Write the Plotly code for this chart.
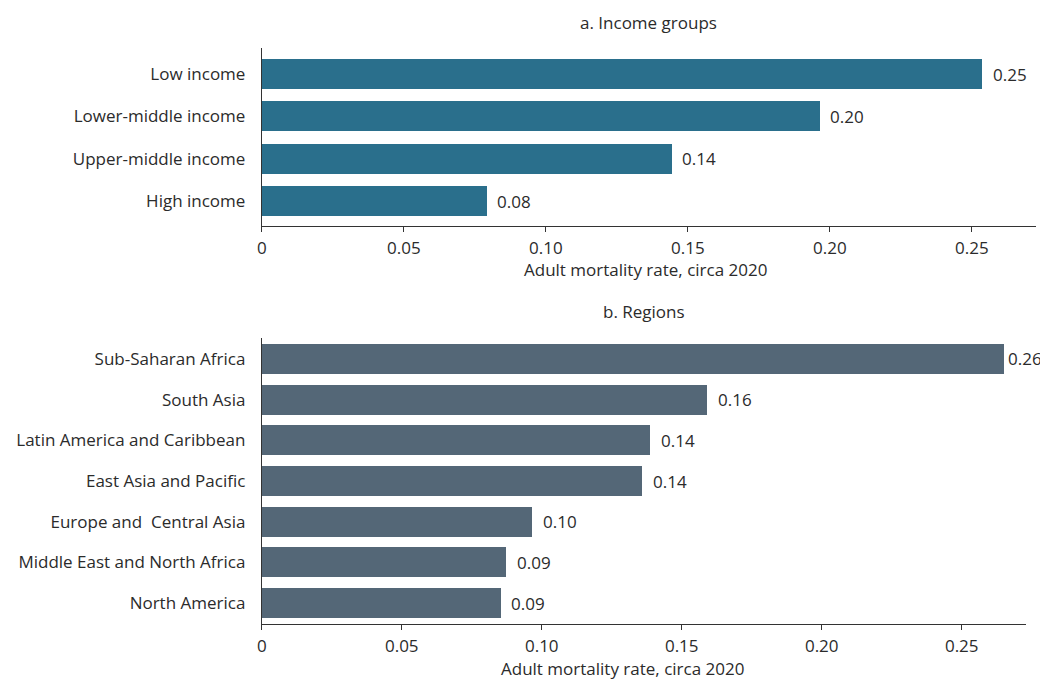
import plotly.graph_objects as go

# Data
income_groups = ["Low income", "Lower-middle income", "Upper-middle income", "High income"]
income_values = [0.2535, 0.1963, 0.1442, 0.0791]
income_labels = ["0.25", "0.20", "0.14", "0.08"]

regions = ["Sub-Saharan Africa", "South Asia", "Latin America and Caribbean",
           "East Asia and Pacific", "Europe and  Central Asia",
           "Middle East and North Africa", "North America"]
region_values = [0.2650, 0.1591, 0.1385, 0.1357, 0.0966, 0.0873, 0.0852]
region_labels = ["0.26", "0.16", "0.14", "0.14", "0.10", "0.09", "0.09"]

x_tickvals = [0, 0.05, 0.10, 0.15, 0.20, 0.25]
x_ticktext = ["0", "0.05", "0.10", "0.15", "0.20", "0.25"]

title_a = "a. Income groups"
title_b = "b. Regions"
x_title = "Adult mortality rate, circa 2020"

FONT = "'Open Sans', Lato, sans-serif"
TXT = "#2b2b2b"
FS = 17
# page body has an 8px margin; figure placed at (8, 8)
OX, OY = 8, 8
W, H = 1040, 673


def px(x):
    return (x - OX) / W


def py(y):
    return 1 - (y - OY) / H


fig = go.Figure()
fig.add_trace(go.Bar(
    x=income_values, y=income_groups, orientation="h",
    marker=dict(color="#2a6f8c", line=dict(width=0)),
    width=0.709, xaxis="x", yaxis="y", hoverinfo="x+y",
))
fig.add_trace(go.Bar(
    x=region_values, y=regions, orientation="h",
    marker=dict(color="#546777", line=dict(width=0)),
    width=0.738, xaxis="x2", yaxis="y2", hoverinfo="x+y",
))

annotations = []
for v, t, c in zip(income_values, income_labels, income_groups):
    annotations.append(dict(x=v, y=c, xref="x", yref="y", text=t, showarrow=False,
                            xanchor="left", yanchor="middle", xshift=9,
                            font=dict(family=FONT, size=FS, color=TXT)))
for v, t, c in zip(region_values, region_labels, regions):
    annotations.append(dict(x=v, y=c, xref="x2", yref="y2", text=t, showarrow=False,
                            xanchor="left", yanchor="middle", xshift=2 if v > 0.2 else 9,
                            font=dict(family=FONT, size=FS, color=TXT)))

annotations += [
    dict(x=px(647), y=py(22), xref="paper", yref="paper", text=title_a, showarrow=False,
         xanchor="center", yanchor="middle", font=dict(family=FONT, size=FS, color=TXT)),
    dict(x=px(642), y=py(312), xref="paper", yref="paper", text=title_b, showarrow=False,
         xanchor="center", yanchor="middle", font=dict(family=FONT, size=FS, color=TXT)),
    dict(x=px(643.5), y=py(270), xref="paper", yref="paper", text=x_title, showarrow=False,
         xanchor="center", yanchor="middle", font=dict(family=FONT, size=FS, color=TXT)),
    dict(x=px(620), y=py(668), xref="paper", yref="paper", text=x_title, showarrow=False,
         xanchor="center", yanchor="middle", font=dict(family=FONT, size=FS, color=TXT)),
]

xcommon = dict(tickvals=x_tickvals, ticktext=x_ticktext, showgrid=False, zeroline=False,
               showline=True, linecolor="#333333", linewidth=1, ticks="outside", ticklen=5,
               tickcolor="#333333", tickfont=dict(family=FONT, size=FS, color=TXT),
               ticklabelstandoff=2, fixedrange=True)
ycommon = dict(type="category", showgrid=False, zeroline=False, showline=True,
               linecolor="#333333", linewidth=1, ticks="", ticklabelstandoff=12,
               tickfont=dict(family=FONT, size=FS, color=TXT), fixedrange=True)

fig.update_layout(
    width=W, height=H,
    margin=dict(l=0, r=0, t=0, b=0),
    paper_bgcolor="white", plot_bgcolor="white",
    showlegend=False, bargap=0,
    font=dict(family=FONT, color=TXT),
    xaxis=dict(xcommon, domain=[px(258), px(1036)], range=[0, 0.2726], anchor="y"),
    yaxis=dict(ycommon, domain=[py(226), py(48)], range=[3.59, -0.614], anchor="x",
               categoryarray=income_groups, categoryorder="array"),
    xaxis2=dict(xcommon, domain=[px(258), px(1026)], range=[0, 0.273], anchor="y2"),
    yaxis2=dict(ycommon, domain=[py(624), py(338)], range=[6.516, -0.516], anchor="x2",
                categoryarray=regions, categoryorder="array"),
    annotations=annotations,
)

fig.write_html("out.html")
